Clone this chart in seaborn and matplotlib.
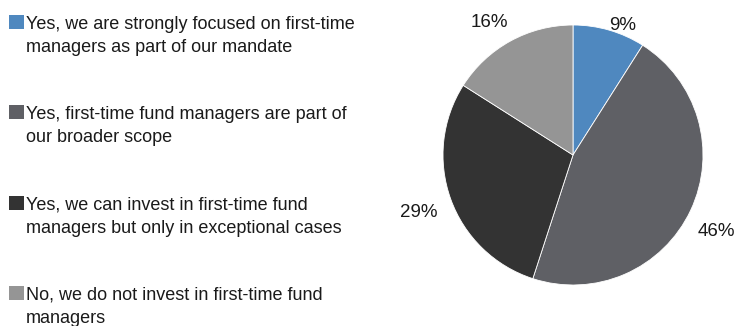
import matplotlib
matplotlib.use("Agg")
import matplotlib.pyplot as plt
from matplotlib.patches import Rectangle
import seaborn as sns

categories = [
    "Yes, we are strongly focused on first-time\nmanagers as part of our mandate",
    "Yes, first-time fund managers are part of\nour broader scope",
    "Yes, we can invest in first-time fund\nmanagers but only in exceptional cases",
    "No, we do not invest in first-time fund\nmanagers",
]
shares = [9, 46, 29, 16]
colors = ["#4F88BF", "#5F6065", "#333333", "#959595"]

# label anchor points around the pie (unit-radius coordinates)
label_pos = [(0.385, 1.00), (1.10, -0.585), (-1.19, -0.442), (-0.646, 1.023)]

sns.set_theme(style="white")
plt.rcParams["font.family"] = ["Liberation Sans", "DejaVu Sans"]

W, H = 735, 326
fig = plt.figure(figsize=(W / 100, H / 100), dpi=100)
fig.patch.set_facecolor("white")

# pie axes: centre (573, 155) px, radius 130 px
cx, cy, r = 573, 155, 130
ax = fig.add_axes([(cx - r) / W, (H - cy - r) / H, 2 * r / W, 2 * r / H])
wedges, texts, autotexts = ax.pie(
    shares,
    colors=colors,
    startangle=90,
    counterclock=False,
    autopct=lambda p: f"{p:.0f}%",
    pctdistance=1.2,
    wedgeprops=dict(edgecolor="white", linewidth=0.6),
    textprops=dict(fontsize=13.5, color="#1a1a1a"),
)
for t, pos in zip(autotexts, label_pos):
    t.set_position(pos)
    t.set_ha("center")
    t.set_va("center")
ax.set_xlim(-1, 1)
ax.set_ylim(-1, 1)
ax.set_aspect("equal")
ax.axis("off")

# legend drawn as stacked two-line entries
first_baselines = [28.5, 119.0, 209.5, 299.5]
line_gap = 23.5
for lab, col, yb in zip(categories, colors, first_baselines):
    fig.patches.append(
        Rectangle((9 / W, 1 - yb / H), 14.5 / W, 14 / H,
                  transform=fig.transFigure, facecolor=col, edgecolor="none")
    )
    fig.text(26 / W, 1 - (yb + line_gap) / H, lab, fontsize=13, va="baseline",
             ha="left", color="#1a1a1a", linespacing=1.47)

fig.savefig("out.png", dpi=100, facecolor="white")
